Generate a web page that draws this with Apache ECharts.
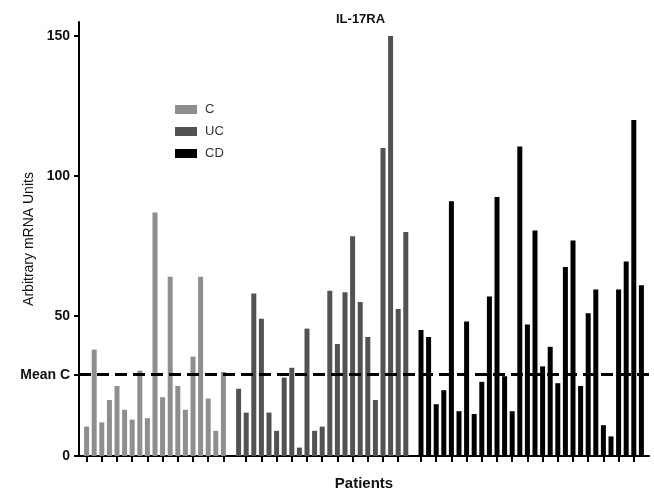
<!DOCTYPE html>
<html>
<head>
<meta charset="utf-8">
<script src="https://cdn.jsdelivr.net/npm/echarts@6/dist/echarts.min.js"></script>
<style>
html,body{margin:0;padding:0;background:#fff;}
#chart{width:654px;height:492px;}
</style>
</head>
<body>
<div id="chart"></div>
<script>
// Data
var groupNames = ['C', 'UC', 'CD'];
var cValues = [10.5, 38, 12, 20, 25, 16.5, 13, 30.5, 13.5, 87, 21, 64, 25, 16.5, 35.5, 64, 20.5, 9, 30];
var ucValues = [24, 15.5, 58, 49, 15.5, 9, 28, 31.5, 3, 45.5, 9, 10.5, 59, 40, 58.5, 78.5, 55, 42.5, 20, 110, 150, 52.5, 80];
var cdValues = [45, 42.5, 18.5, 23.5, 91, 16, 48, 15, 26.5, 57, 92.5, 28.5, 16, 110.5, 47, 80.5, 32, 39, 26, 67.5, 77, 25, 51, 59.5, 11, 7, 59.5, 69.5, 120, 61];
var yTickValues = [0, 50, 100, 150];
var meanLabel = 'Mean C';

var meanC = cValues.reduce(function (a, b) { return a + b; }, 0) / cValues.length;

// Build category slots: blank, C..., blank, UC..., blank, CD..., blank
var categories = [];
var sC = [], sUC = [], sCD = [];
var tickIdx = {};
function pushBlank() { categories.push(''); sC.push(null); sUC.push(null); sCD.push(null); }
pushBlank();
cValues.forEach(function (v, i) {
  if (i % 2 === 0) tickIdx[categories.length] = true;
  categories.push('C' + (i + 1)); sC.push(v); sUC.push(null); sCD.push(null);
});
pushBlank();
ucValues.forEach(function (v, i) {
  if (i % 2 === 1) tickIdx[categories.length] = true;
  categories.push('UC' + (i + 1)); sC.push(null); sUC.push(v); sCD.push(null);
});
pushBlank();
cdValues.forEach(function (v, i) {
  if (i % 2 === 0) tickIdx[categories.length] = true;
  categories.push('CD' + (i + 1)); sC.push(null); sUC.push(null); sCD.push(v);
});
pushBlank();

var chart = echarts.init(document.getElementById('chart'), null, {renderer: 'canvas'});
var font = 'Liberation Sans, Arial, Helvetica, sans-serif';
var option = {
  animation: false,
  backgroundColor: '#ffffff',
  title: {
    text: 'IL-17RA',
    left: 331, top: 8,
    textStyle: {fontFamily: font, fontSize: 13, fontWeight: 'bold', color: '#111'}
  },
  legend: {
    orient: 'vertical',
    left: 170, top: 97,
    itemWidth: 22, itemHeight: 9, itemGap: 7,
    icon: 'rect',
    data: groupNames,
    textStyle: {fontFamily: font, fontSize: 13, color: '#333', padding: [0, 0, 0, 3], lineHeight: 15}
  },
  grid: {left: 79, right: 5, top: 22, bottom: 36, containLabel: false, outerBoundsMode: 'none'},
  xAxis: {
    type: 'category',
    data: categories,
    boundaryGap: false,
    name: 'Patients',
    nameLocation: 'middle',
    nameGap: 20,
    nameMoveOverlap: false,
    nameTextStyle: {fontFamily: font, fontSize: 15, fontWeight: 'bold', color: '#111'},
    axisLine: {lineStyle: {color: '#000', width: 2}},
    axisTick: {
      show: true, length: 6, inside: false,
      lineStyle: {color: '#000', width: 2},
      interval: function (index) { return !!tickIdx[index]; }
    },
    axisLabel: {show: false},
    splitLine: {show: false}
  },
  yAxis: {
    type: 'value',
    min: 0, max: 155,
    name: 'Arbitrary mRNA Units',
    nameLocation: 'middle',
    nameGap: 43,
    nameRotate: 90,
    nameMoveOverlap: false,
    nameTextStyle: {fontFamily: font, fontSize: 14, color: '#111'},
    axisLine: {show: true, lineStyle: {color: '#000', width: 2}},
    axisTick: {show: true, length: 5, lineStyle: {color: '#000', width: 2},
      customValues: yTickValues.concat([meanC])},
    axisLabel: {
      customValues: yTickValues.concat([meanC]),
      margin: 9,
      fontFamily: font, fontSize: 14, fontWeight: 'bold', color: '#111',
      formatter: function (v) { return Math.abs(v - meanC) < 0.001 ? meanLabel : String(v); }
    },
    splitLine: {show: false}
  },
  series: [
    {name: 'C', type: 'bar', stack: 'all', data: sC, barWidth: 5, itemStyle: {color: '#8e8e8e'}},
    {name: 'UC', type: 'bar', stack: 'all', data: sUC, barWidth: 5, itemStyle: {color: '#525252'}},
    {name: 'CD', type: 'bar', stack: 'all', data: sCD, barWidth: 5, itemStyle: {color: '#000000'},
      markLine: {
        silent: true, symbol: ['none', 'none'],
        label: {show: false},
        lineStyle: {color: '#000', width: 3, type: [12, 6]},
        data: [{yAxis: meanC}]
      }
    }
  ]
};
chart.setOption(option);
</script>
</body>
</html>
